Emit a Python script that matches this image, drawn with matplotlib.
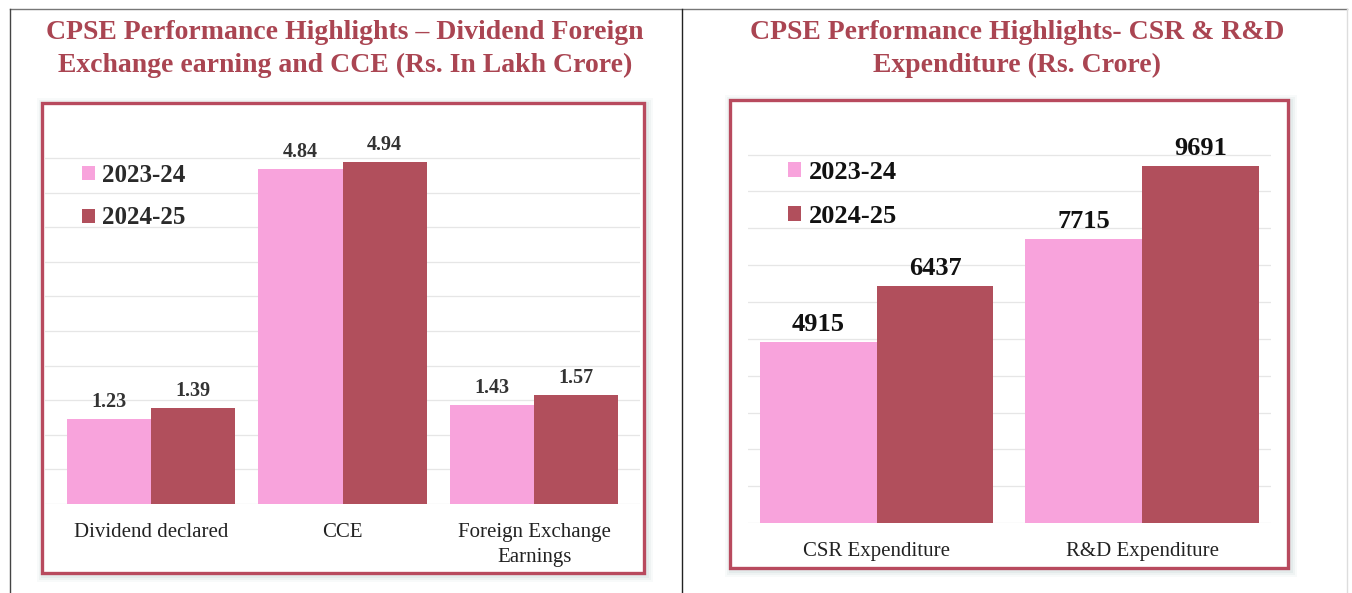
import matplotlib
matplotlib.use("Agg")
import matplotlib.pyplot as plt
from matplotlib.patches import Rectangle
from matplotlib.lines import Line2D
import numpy as np

plt.rcParams['font.family'] = ['Liberation Serif', 'DejaVu Serif']

# data
series = ['2023-24', '2024-25']
left_categories = ['Dividend declared', 'CCE', 'Foreign Exchange\nEarnings']
left_2023 = [1.23, 4.84, 1.43]
left_2024 = [1.39, 4.94, 1.57]
right_categories = ['CSR Expenditure', 'R&D Expenditure']
right_2023 = [4915, 7715]
right_2024 = [6437, 9691]

left_title = 'CPSE Performance Highlights \u2013 Dividend Foreign\nExchange earning and CCE (Rs. In Lakh Crore)'
right_title = 'CPSE Performance Highlights- CSR & R&D\nExpenditure (Rs. Crore)'

pink = '#F8A3DC'
maroon = '#B14F5C'
border = '#B84A5E'
title_color = '#AA4552'

W, H = 1352, 593
fig = plt.figure(figsize=(W / 100, H / 100), dpi=100)
fig.patch.set_facecolor('white')


def fx(x):
    return x / W


def fy(y):
    return 1 - y / H


def add_box(x0, y0, x1, y1):
    # soft shadow then white panel then red border
    for i, a in [(7, 0.05), (5, 0.07), (3, 0.09)]:
        fig.add_artist(Rectangle((fx(x0 - i + 2), fy(y1 + i + 2)),
                                 (x1 - x0 + 2 * i) / W, (y1 - y0 + 2 * i) / H,
                                 transform=fig.transFigure, facecolor='#7FA0A0',
                                 edgecolor='none', alpha=a, zorder=-3))
    fig.add_artist(Rectangle((fx(x0), fy(y1)), (x1 - x0) / W, (y1 - y0) / H,
                             transform=fig.transFigure, facecolor='white',
                             edgecolor=border, linewidth=2.4, zorder=-2))


# outer frame lines
fig.add_artist(Line2D([fx(10), fx(1347)], [fy(9), fy(9)], transform=fig.transFigure, color='#777777', lw=1))
fig.add_artist(Line2D([fx(10), fx(10)], [fy(9), fy(593)], transform=fig.transFigure, color='#444444', lw=1))
fig.add_artist(Line2D([fx(682), fx(682)], [fy(9), fy(593)], transform=fig.transFigure, color='#222222', lw=1))
fig.add_artist(Line2D([fx(1347), fx(1347)], [fy(9), fy(593)], transform=fig.transFigure, color='#dddddd', lw=1))

add_box(42, 103, 644, 573)
add_box(730, 100, 1288, 568)

fig.text(fx(345), fy(49), left_title, ha='center', va='center', fontsize=20,
         fontweight='bold', color=title_color, linespacing=1.4)
fig.text(fx(1017), fy(49), right_title, ha='center', va='center', fontsize=20,
         fontweight='bold', color=title_color, linespacing=1.4)

w = 0.44


def style_axes(ax, ticks, ymax):
    ax.set_facecolor('none')
    ax.set_yticks(ticks)
    ax.set_ylim(0, ymax)
    ax.grid(axis='y', color='#E6E6E6', linewidth=0.9)
    ax.set_axisbelow(True)
    for s in ax.spines.values():
        s.set_visible(False)
    ax.tick_params(left=False, labelleft=False, bottom=False, pad=10,
                   labelsize=15, labelcolor='#222222')


# left chart
axl = fig.add_axes([0.0333, 0.1501, 0.4401, 0.6535])
x = np.arange(len(left_categories))
b1 = axl.bar(x - w / 2, left_2023, w, color=pink, label=series[0])
b2 = axl.bar(x + w / 2, left_2024, w, color=maroon, label=series[1])
axl.set_xlim(-0.553, 2.553)
style_axes(axl, np.arange(0, 5.01, 0.5), 5.6)
axl.set_xticks(x, left_categories, linespacing=1.45)
axl.bar_label(b1, labels=[f'{v:.2f}' for v in left_2023], padding=5,
              fontsize=14.5, fontweight='bold', color='#333333')
axl.bar_label(b2, labels=[f'{v:.2f}' for v in left_2024], padding=5,
              fontsize=14.5, fontweight='bold', color='#333333')
axl.legend(loc='upper left', bbox_to_anchor=(fx(82), fy(164)),
           bbox_transform=fig.transFigure, frameon=False, borderpad=0,
           borderaxespad=0, handlelength=0.5, handleheight=0.5,
           handletextpad=0.3, labelspacing=0.78,
           prop={'size': 18, 'weight': 'bold'}, labelcolor='#2a2a2a')

# right chart
axr = fig.add_axes([0.5533, 0.1180, 0.3868, 0.6585])
x = np.arange(len(right_categories))
b3 = axr.bar(x - w / 2, right_2023, w, color=pink, label=series[0])
b4 = axr.bar(x + w / 2, right_2024, w, color=maroon, label=series[1])
axr.set_xlim(-0.484, 1.486)
style_axes(axr, np.arange(0, 10001, 1000), 10600)
axr.set_xticks(x, right_categories)
axr.bar_label(b3, padding=4, fontsize=19, fontweight='bold', color='#111111')
axr.bar_label(b4, padding=4, fontsize=19, fontweight='bold', color='#111111')
axr.legend(loc='upper left', bbox_to_anchor=(fx(788), fy(161)),
           bbox_transform=fig.transFigure, frameon=False, borderpad=0,
           borderaxespad=0, handlelength=0.5, handleheight=0.5,
           handletextpad=0.3, labelspacing=0.8,
           prop={'size': 19, 'weight': 'bold'}, labelcolor='#111111')

fig.savefig('out.png', dpi=100)
